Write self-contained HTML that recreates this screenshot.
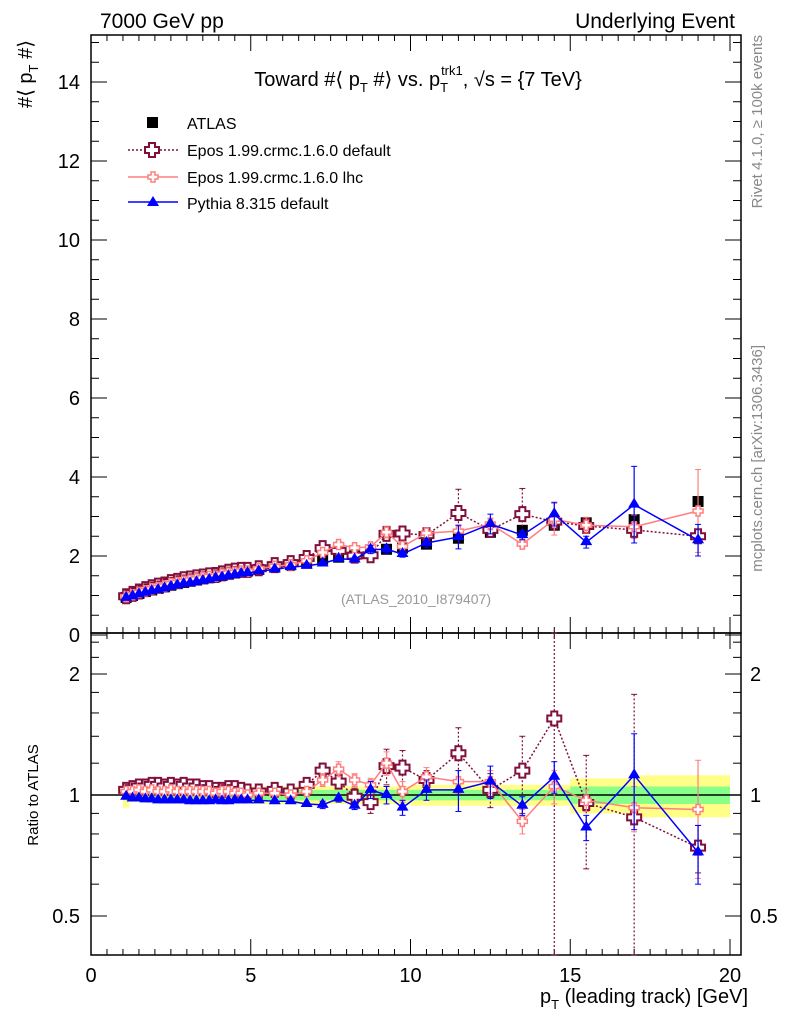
<!DOCTYPE html>
<html><head><meta charset="utf-8"><style>
body{margin:0;background:#fff;}
svg{display:block;font-family:"Liberation Sans",sans-serif;}
</style></head><body>
<svg id="c" width="786" height="1024" viewBox="0 0 786 1024">
<g id="bg"></g>
<text x="100" y="28" font-size="21">7000 GeV pp</text>
<text x="735" y="28" font-size="21" text-anchor="end">Underlying Event</text>
<text x="418" y="86" font-size="20" text-anchor="middle">Toward #⟨ p<tspan font-size="13" dy="6">T</tspan><tspan dy="-6"> #⟩ vs. p</tspan><tspan font-size="13" dy="6">T</tspan><tspan font-size="13" dx="-7" dy="-17">trk1</tspan><tspan dy="11">, √s = {7 TeV}</tspan></text>
<text transform="translate(32,40) rotate(-90)" font-size="20" text-anchor="end">#⟨ p<tspan font-size="13" dy="6">T</tspan><tspan dy="-6"> #⟩</tspan></text>
<text transform="translate(38,795) rotate(-90)" font-size="15" text-anchor="middle">Ratio to ATLAS</text>
<text x="748" y="1003" font-size="20" text-anchor="end">p<tspan font-size="13" dy="6">T</tspan><tspan dy="-6"> (leading track) [GeV]</tspan></text>
<text transform="translate(762,35) rotate(-90)" font-size="15" fill="#888" text-anchor="end">Rivet 4.1.0, ≥ 100k events</text>
<text transform="translate(762,345) rotate(-90)" font-size="15" fill="#888" text-anchor="end">mcplots.cern.ch [arXiv:1306.3436]</text>
<text x="416" y="604" font-size="14" fill="#999" text-anchor="middle">(ATLAS_2010_I879407)</text>
<g id="plot"></g>
<g id="legend">
<rect x="147" y="117" width="11" height="11" fill="#000"/>
<text x="187" y="129" font-size="16">ATLAS</text>
<line x1="128" y1="150" x2="178" y2="150" stroke="#800f3c" stroke-dasharray="2,2" stroke-width="1.5"/>
<path d="M149,143h6v4h4v6h-4v4h-6v-4h-4v-6h4z" fill="#fff" stroke="#800f3c" stroke-width="2"/>
<text x="187" y="156" font-size="16">Epos 1.99.crmc.1.6.0 default</text>
<line x1="128" y1="177" x2="178" y2="177" stroke="#ff7f7f" stroke-width="1.5"/>
<path d="M151,172h4v3h3v4h-3v3h-4v-3h-3v-4h3z" fill="#fff" stroke="#ff7f7f" stroke-width="1.5"/>
<text x="187" y="183" font-size="16">Epos 1.99.crmc.1.6.0 lhc</text>
<line x1="128" y1="202" x2="178" y2="202" stroke="#0000ff" stroke-width="1.5"/>
<path d="M153,196l6,10h-12z" fill="#0000ff"/>
<text x="187" y="209" font-size="16">Pythia 8.315 default</text>
</g>
</svg>
<script>
const xs=[1.1,1.3,1.5,1.7,1.9,2.1,2.3,2.5,2.7,2.9,3.1,3.3,3.5,3.7,3.9,4.1,4.3,4.5,4.7,4.9,5.25,5.75,6.25,6.75,7.25,7.75,8.25,8.75,9.25,9.75,10.5,11.5,12.5,13.5,14.5,15.5,17,19];
const atlas=[0.95,1.0,1.05,1.1,1.14,1.18,1.22,1.26,1.3,1.33,1.36,1.39,1.42,1.45,1.48,1.51,1.54,1.57,1.6,1.62,1.66,1.72,1.78,1.84,1.92,1.97,2.03,2.1,2.17,2.2,2.3,2.45,2.6,2.65,2.78,2.84,2.92,3.38];
const eposDefMain=[0.98,1.04,1.10,1.16,1.21,1.25,1.28,1.34,1.37,1.41,1.43,1.46,1.48,1.51,1.52,1.56,1.60,1.63,1.65,1.65,1.69,1.77,1.82,1.95,2.2,2.13,2.01,2.02,2.56,2.57,2.53,3.09,2.66,3.06,2.87,2.76,2.66,2.5];
const eposDefMainErr=[0.01,0.01,0.01,0.01,0.01,0.01,0.01,0.01,0.01,0.01,0.01,0.01,0.01,0.01,0.01,0.01,0.01,0.01,0.01,0.01,0.01,0.01,0.02,0.03,0.05,0.05,0.06,0.08,0.15,0.15,0.12,0.6,0.12,0.65,0.1,0.1,0.08,0.08];
const eposLhcMain=[0.97,1.02,1.08,1.12,1.17,1.20,1.24,1.30,1.33,1.36,1.39,1.42,1.45,1.48,1.49,1.54,1.57,1.59,1.62,1.62,1.68,1.74,1.78,1.88,2.09,2.29,2.21,2.23,2.6,2.24,2.58,2.63,2.81,2.3,2.93,2.78,2.74,3.14];
const eposLhcMainErr=[0.01,0.01,0.01,0.01,0.01,0.01,0.01,0.01,0.01,0.01,0.01,0.01,0.01,0.01,0.01,0.01,0.01,0.01,0.01,0.01,0.01,0.01,0.02,0.03,0.05,0.08,0.07,0.07,0.14,0.1,0.13,0.15,0.15,0.1,0.4,0.2,0.3,1.05];
const pythiaMain=[0.94,0.98,1.03,1.07,1.11,1.14,1.18,1.22,1.26,1.29,1.31,1.34,1.37,1.40,1.44,1.46,1.49,1.52,1.55,1.57,1.61,1.66,1.72,1.75,1.81,1.93,1.91,2.16,2.17,2.05,2.33,2.48,2.81,2.53,3.06,2.35,3.3,2.4];
const pythiaMainErr=[0.01,0.01,0.01,0.01,0.01,0.01,0.01,0.01,0.01,0.01,0.01,0.01,0.01,0.01,0.01,0.01,0.01,0.01,0.01,0.01,0.01,0.02,0.02,0.02,0.04,0.04,0.04,0.1,0.1,0.08,0.12,0.3,0.25,0.12,0.3,0.15,0.97,0.4];
const eposDefRatio=[1.03,1.04,1.05,1.05,1.06,1.06,1.05,1.06,1.05,1.06,1.05,1.05,1.04,1.04,1.03,1.03,1.04,1.04,1.03,1.02,1.02,1.03,1.02,1.06,1.15,1.08,0.99,0.96,1.18,1.17,1.09,1.27,1.03,1.15,1.55,0.955,0.88,0.74];
const eposDefErr=[0.01,0.01,0.01,0.01,0.01,0.01,0.01,0.01,0.01,0.01,0.01,0.01,0.01,0.01,0.01,0.01,0.01,0.01,0.01,0.01,0.01,0.01,0.01,0.03,0.05,0.04,0.05,0.06,0.12,0.12,0.06,0.2,0.1,0.25,1.6,0.3,0.9,0.1];
const eposLhcRatio=[1.02,1.02,1.03,1.02,1.03,1.02,1.02,1.03,1.02,1.02,1.02,1.02,1.02,1.02,1.01,1.02,1.02,1.01,1.01,1.0,1.01,1.01,1.0,1.02,1.09,1.16,1.09,1.06,1.2,1.02,1.11,1.08,1.08,0.86,1.05,0.97,0.93,0.92];
const eposLhcErr=[0.01,0.01,0.01,0.01,0.01,0.01,0.01,0.01,0.01,0.01,0.01,0.01,0.01,0.01,0.01,0.01,0.01,0.01,0.01,0.01,0.01,0.01,0.01,0.02,0.04,0.05,0.04,0.04,0.08,0.06,0.06,0.07,0.07,0.06,0.1,0.06,0.12,0.3];
const pythiaRatio=[0.99,0.98,0.98,0.975,0.975,0.97,0.97,0.97,0.97,0.97,0.965,0.965,0.965,0.965,0.97,0.965,0.965,0.97,0.97,0.97,0.97,0.965,0.965,0.95,0.945,0.98,0.94,1.03,1.0,0.93,1.03,1.03,1.08,0.94,1.11,0.83,1.12,0.72];
const pythiaErr=[0.005,0.005,0.005,0.005,0.005,0.005,0.005,0.005,0.005,0.005,0.005,0.005,0.005,0.005,0.005,0.005,0.005,0.005,0.005,0.005,0.005,0.01,0.01,0.01,0.02,0.02,0.02,0.05,0.05,0.04,0.06,0.12,0.1,0.05,0.1,0.06,0.3,0.12];
const bandEdges=[1,1.2,5,10,15,17,20];
const bandTot=[0.07,0.04,0.05,0.06,0.1,0.12];
const bandStat=[0.03,0.02,0.03,0.03,0.05,0.05];
const yTicksMain=[0,2,4,6,8,10,12,14];
const xTicks=[0,5,10,15,20];
const rTicks=[0.5,1,2];

const NS="http://www.w3.org/2000/svg";
const L=91,R=741,T=35,MB=633,RB=955;
const X=v=>L+v*31.95;
const Y=v=>635-v*39.5;
const RY=r=>795-Math.log2(r)*121;
const g=document.getElementById('plot');
function el(tag,attrs,parent){const e=document.createElementNS(NS,tag);for(const k in attrs)e.setAttribute(k,attrs[k]);(parent||g).appendChild(e);return e;}

const bg=document.getElementById('bg');
for(let i=0;i<bandTot.length;i++){
  const b=el('rect',{x:X(bandEdges[i]),y:RY(1+bandTot[i]),width:X(bandEdges[i+1])-X(bandEdges[i]),height:RY(1-bandTot[i])-RY(1+bandTot[i]),fill:'#ffff88'},bg);
  
  
  const s=el('rect',{x:X(bandEdges[i]),y:RY(1+bandStat[i]),width:X(bandEdges[i+1])-X(bandEdges[i]),height:RY(1-bandStat[i])-RY(1+bandStat[i]),fill:'#88ff88'},bg);
  
  
}
const f1=el('rect',{x:L,y:T,width:R-L,height:MB-T,fill:'none',stroke:'#000','stroke-width':1.5});


const f2=el('rect',{x:L,y:MB,width:R-L,height:RB-MB,fill:'none',stroke:'#000','stroke-width':1.5});


el('line',{x1:L,x2:R,y1:RY(1),y2:RY(1),stroke:'#000','stroke-width':1.5});

for(let v=0;v<=20.001;v+=0.5){
  const maj=Math.abs(v%5)<0.01;const len=maj?16:6;
  [[MB,-1],[T,1],[RB,-1],[MB,1]].forEach(([y0,d])=>el('line',{x1:X(v),x2:X(v),y1:y0,y2:y0+d*len,stroke:'#000'}));
}
xTicks.forEach(v=>{const t=el('text',{x:X(v),y:982,'font-size':20,'text-anchor':'middle'});t.textContent=v;

});
for(let v=0;v<=15;v+=0.5){const maj=v%2===0;const len=maj?16:8;
  el('line',{x1:L,x2:L+len,y1:Y(v),y2:Y(v),stroke:'#000'});el('line',{x1:R,x2:R-len,y1:Y(v),y2:Y(v),stroke:'#000'});}
yTicksMain.forEach(v=>{const t=el('text',{x:80,y:Y(v)+7,'font-size':20,'text-anchor':'end'});t.textContent=v;

});
[0.4,0.5,0.6,0.7,0.8,0.9,1,1.2,1.4,1.6,1.8,2,2.2,2.4].forEach(v=>{const maj=rTicks.includes(v);const len=maj?16:8;
  el('line',{x1:L,x2:L+len,y1:RY(v),y2:RY(v),stroke:'#000'});el('line',{x1:R,x2:R-len,y1:RY(v),y2:RY(v),stroke:'#000'});});
rTicks.forEach(v=>{[[80,'end'],[750,'start']].forEach(([x,a])=>{const t=el('text',{x:x,y:RY(v)+7,'font-size':20,'text-anchor':a});t.textContent=v;

});});

function clampR(y){return Math.max(MB,Math.min(RB,y));}
function series(main,mainErr,ratio,err,color,dash,marker,name){
  const mainPts=xs.map((x,i)=>[X(x),Y(main[i])]);
  const ratPts=xs.map((x,i)=>[X(x),RY(ratio[i])]);
  [[mainPts,'main'],[ratPts,'ratio']].forEach(([pts,pn])=>{
    const ln=el('polyline',{points:pts.map(p=>p.join(',')).join(' '),fill:'none',stroke:color,'stroke-width':1.5,'stroke-dasharray':dash||'none'});
    
    
    pts.forEach((p,i)=>{
      let y1,y2;
      if(pn==='main'){y1=Y(main[i]+mainErr[i]);y2=Y(main[i]-mainErr[i]);}
      else{y1=clampR(RY(ratio[i]+err[i]));y2=clampR(RY(Math.max(0.01,ratio[i]-err[i])));}
      if(y2-y1>6){el('line',{x1:p[0],x2:p[0],y1:y1,y2:y2,stroke:color,'stroke-width':1.2,'stroke-dasharray':dash||'none'});
        el('line',{x1:p[0]-3,x2:p[0]+3,y1:y1,y2:y1,stroke:color});el('line',{x1:p[0]-3,x2:p[0]+3,y1:y2,y2:y2,stroke:color});}
      const m=marker(p[0],p[1]);
      
      
    });
  });
}
xs.forEach((x,i)=>{const r=el('rect',{x:X(x)-5.5,y:Y(atlas[i])-5.5,width:11,height:11,fill:'#000'});

});
series(eposDefMain,eposDefMainErr,eposDefRatio,eposDefErr,'#800f3c','2,2',(x,y)=>el('path',{d:`M${x-3},${y-7}h6v4h4v6h-4v4h-6v-4h-4v-6h4z`,fill:'#fff',stroke:'#800f3c','stroke-width':2}),'epos-default');
series(eposLhcMain,eposLhcMainErr,eposLhcRatio,eposLhcErr,'#ff7f7f','',(x,y)=>el('path',{d:`M${x-2},${y-5}h4v3h3v4h-3v3h-4v-3h-3v-4h3z`,fill:'#fff',stroke:'#ff7f7f','stroke-width':1.5}),'epos-lhc');
series(pythiaMain,pythiaMainErr,pythiaRatio,pythiaErr,'#0000ff','',(x,y)=>el('path',{d:`M${x},${y-7}l6,10h-12z`,fill:'#0000ff'}),'pythia');
</script>
</body></html>
